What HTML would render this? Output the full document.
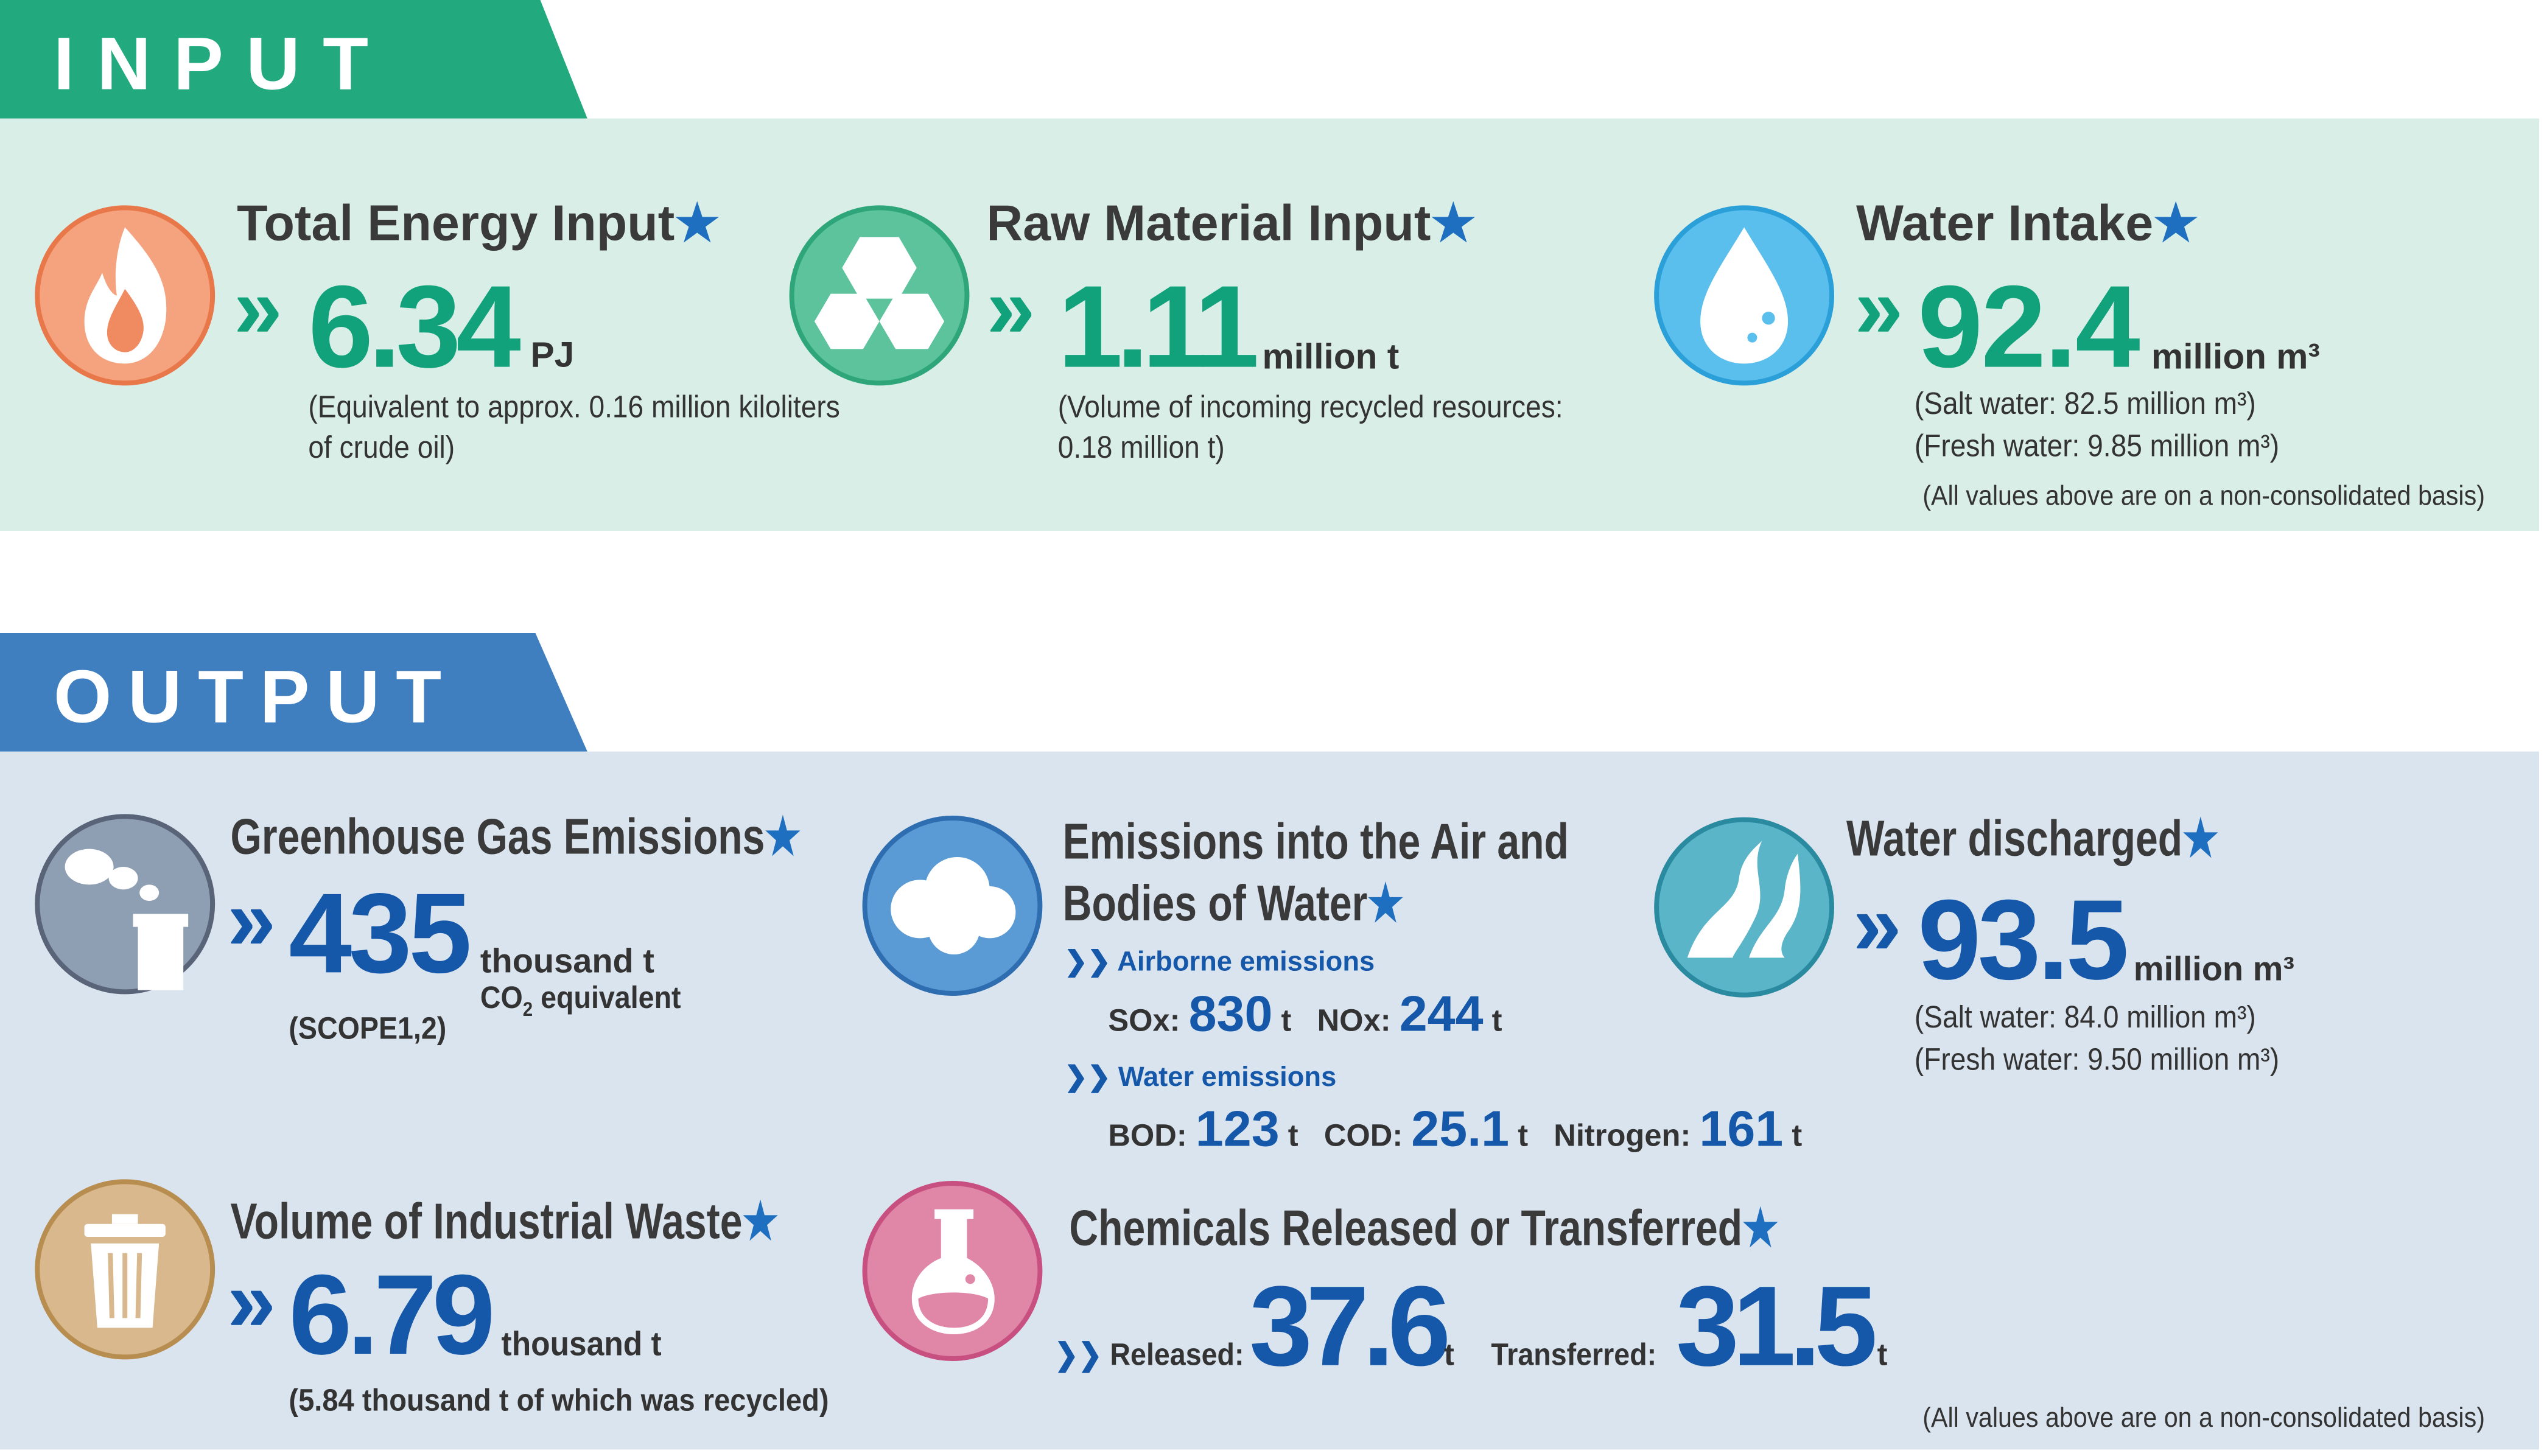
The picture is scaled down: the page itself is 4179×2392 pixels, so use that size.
<!DOCTYPE html>
<html><head><meta charset="utf-8">
<style>
html,body{margin:0;padding:0;background:#fff;overflow:hidden}
#root{position:relative;width:1568px;height:897px;transform:scale(2.6652,2.6667);transform-origin:0 0;font-family:"Liberation Sans",sans-serif;color:#333}
.a{position:absolute;white-space:nowrap;line-height:1;transform-origin:0 0}
.t{font-weight:bold;font-size:31px;color:#3a3a3a}
.n{font-size:31px;color:#3a3a3a;font-weight:bold;transform:scaleX(0.8)}
.g{color:#12a27b;font-weight:bold}
.b{color:#1557a8;font-weight:bold}
.star{color:#1e6fc0}
.s{font-size:19px;color:#333;transform:scaleX(0.91)}
.u{font-weight:bold;font-size:22px;color:#333}
.ch{font-size:54px}
</style></head><body>
<div id="root">
<svg class="a" style="left:0;top:0" width="1568" height="897">
<rect x="0" y="73" width="1565" height="254" fill="#daeee8"/>
<polygon points="0,0 333,0 362,73 0,73" fill="#22a97d"/>
<rect x="0" y="463" width="1565" height="430" fill="#dae4ef"/>
<polygon points="0,390 330,390 362,463 0,463" fill="#3f7fc0"/>
<g><circle cx="77" cy="182" r="54" fill="#f4a37e" stroke="#e8784a" stroke-width="3"/>
<path d="M77,140 C95,160 105,175 102,198 C99,216 88,224 77,224 C62,224 52,214 52,198 C52,184 60,176 63,168 C66,178 70,182 72,182 C70,168 72,152 77,140Z" fill="#fff"/>
<path d="M77,178 C86,190 90,198 88,206 C86,214 81,217 77,217 C71,217 66,212 66,205 C66,196 72,188 77,178Z" fill="#f08a60"/></g>
<g><circle cx="542" cy="182" r="54" fill="#5cc39c" stroke="#2ea67a" stroke-width="3"/>
<g fill="#fff"><polygon points="530,146 554,146 565,165 554,184 530,184 519,165"/><polygon points="512,181 532,181 542,198 532,215 512,215 502,198"/><polygon points="552,181 572,181 582,198 572,215 552,215 542,198"/></g></g>
<g><circle cx="1075" cy="182" r="54" fill="#5bbfee" stroke="#2a9fd8" stroke-width="3"/>
<path d="M1075,140 C1088,162 1102,180 1102,198 C1102,214 1090,224 1075,224 C1060,224 1048,214 1048,198 C1048,180 1062,162 1075,140Z" fill="#fff"/>
<circle cx="1090" cy="196" r="4" fill="#5bbfee"/><circle cx="1080" cy="208" r="3" fill="#5bbfee"/></g>
<g><circle cx="77" cy="557" r="54" fill="#8f9fb3" stroke="#5a6478" stroke-width="3"/>
<g fill="#fff"><rect x="85" y="570" width="28" height="40"/><rect x="82" y="563" width="34" height="8"/><ellipse cx="55" cy="534" rx="15" ry="11"/><ellipse cx="76" cy="541" rx="9" ry="7"/><ellipse cx="92" cy="550" rx="6" ry="5"/></g></g>
<g><circle cx="587" cy="558" r="54" fill="#5b9bd5" stroke="#2e6eb0" stroke-width="3"/>
<g fill="#fff"><circle cx="567" cy="560" r="18"/><circle cx="590" cy="548" r="20"/><circle cx="610" cy="562" r="16"/><circle cx="588" cy="572" r="16"/></g></g>
<g><circle cx="1075" cy="559" r="54" fill="#5ab5c9" stroke="#2a8aa0" stroke-width="3"/>
<path d="M1040,590 C1050,560 1070,560 1072,540 C1074,528 1082,522 1086,518 C1078,535 1090,548 1082,565 C1075,580 1068,588 1068,590Z M1078,590 C1085,570 1098,566 1100,548 C1101,538 1105,530 1108,526 C1110,545 1112,560 1102,574 C1096,583 1098,588 1100,590Z" fill="#fff"/></g>
<g><circle cx="77" cy="782" r="54" fill="#d8b88c" stroke="#b88d50" stroke-width="3"/>
<g fill="#fff"><rect x="52" y="754" width="50" height="8" rx="2"/><rect x="69" y="748" width="16" height="6"/><path d="M56,766 H98 L94,818 H60Z"/></g>
<g stroke="#d8b88c" stroke-width="3"><line x1="68" y1="772" x2="69" y2="812"/><line x1="77" y1="772" x2="77" y2="812"/><line x1="86" y1="772" x2="85" y2="812"/></g></g>
<g><circle cx="587" cy="783" r="54" fill="#e087a8" stroke="#c85080" stroke-width="3"/>
<path d="M580,750 V775 C568,780 562,790 562,800 C562,814 574,822 588,822 C602,822 613,814 613,800 C613,790 606,780 596,775 V750Z" fill="#fff"/>
<rect x="576" y="745" width="24" height="6" fill="#fff"/>
<path d="M566,800 C575,795 600,795 609,800 C609,812 600,818 588,818 C576,818 566,812 566,800Z" fill="#e087a8"/><circle cx="598" cy="788" r="3" fill="#e087a8"/></g>
</svg>

<div class="a" style="left:33px;top:16px;font-size:46px;font-weight:bold;color:#fff;letter-spacing:14px">INPUT</div>
<div class="a" style="left:33px;top:406px;font-size:46px;font-weight:bold;color:#fff;letter-spacing:10px">OUTPUT</div>

<div class="a t" style="left:146px;top:122px">Total Energy Input<span class="star">★</span></div>
<div class="a g ch" style="left:144px;top:163px">»</div>
<div class="a g" style="left:190px;top:166px;font-size:72px;letter-spacing:-3px">6.34</div>
<div class="a u" style="left:327px;top:208px">PJ</div>
<div class="a s" style="left:190px;top:239px;line-height:25px">(Equivalent to approx. 0.16 million kiloliters<br>of crude oil)</div>

<div class="a t" style="left:608px;top:122px">Raw Material Input<span class="star">★</span></div>
<div class="a g ch" style="left:608px;top:163px">»</div>
<div class="a g" style="left:652px;top:166px;font-size:72px;letter-spacing:-4px">1.11</div>
<div class="a u" style="left:778px;top:209px">million t</div>
<div class="a s" style="left:652px;top:239px;line-height:25px">(Volume of incoming recycled resources:<br>0.18 million t)</div>

<div class="a t" style="left:1144px;top:122px">Water Intake<span class="star">★</span></div>
<div class="a g ch" style="left:1143px;top:163px">»</div>
<div class="a g" style="left:1182px;top:166px;font-size:72px;letter-spacing:-1px">92.4</div>
<div class="a u" style="left:1326px;top:209px">million m³</div>
<div class="a s" style="left:1180px;top:237px;line-height:26px">(Salt water: 82.5 million m³)<br>(Fresh water: 9.85 million m³)</div>
<div class="a s" style="left:1185px;top:297px;font-size:17px">(All values above are on a non-consolidated basis)</div>

<div class="a n" style="left:142px;top:500px">Greenhouse Gas Emissions<span class="star">★</span></div>
<div class="a b ch" style="left:140px;top:540px">»</div>
<div class="a b" style="left:178px;top:540px;font-size:70px;letter-spacing:-2px">435</div>
<div class="a u" style="left:296px;top:582px;font-size:21px">thousand t</div>
<div class="a" style="left:296px;top:606px;font-size:19px;font-weight:bold;transform:scaleX(0.92)">CO<sub style="font-size:12px">2</sub> equivalent</div>
<div class="a" style="left:178px;top:625px;font-size:19px;font-weight:bold;transform:scaleX(0.92)">(SCOPE1,2)</div>

<div class="a n" style="left:655px;top:500px;line-height:38px">Emissions into the Air and<br>Bodies of Water<span class="star">★</span></div>
<div class="a b" style="left:656px;top:584px;font-size:17px">❯❯ Airborne emissions</div>
<div class="a" style="left:683px;top:609px;font-size:19px;font-weight:bold">SOx: <span class="b" style="font-size:31px">830</span> t &nbsp;&nbsp;NOx: <span class="b" style="font-size:31px">244</span> t</div>
<div class="a b" style="left:656px;top:655px;font-size:17px">❯❯ Water emissions</div>
<div class="a" style="left:683px;top:680px;font-size:19px;font-weight:bold">BOD: <span class="b" style="font-size:31px">123</span> t &nbsp;&nbsp;COD: <span class="b" style="font-size:31px">25.1</span> t &nbsp;&nbsp;Nitrogen: <span class="b" style="font-size:31px">161</span> t</div>

<div class="a n" style="left:1138px;top:501px">Water discharged<span class="star">★</span></div>
<div class="a b ch" style="left:1142px;top:543px">»</div>
<div class="a b" style="left:1182px;top:544px;font-size:70px;letter-spacing:-2px">93.5</div>
<div class="a u" style="left:1315px;top:587px;font-size:21px">million m³</div>
<div class="a s" style="left:1180px;top:615px;line-height:26px">(Salt water: 84.0 million m³)<br>(Fresh water: 9.50 million m³)</div>

<div class="a n" style="left:142px;top:737px">Volume of Industrial Waste<span class="star">★</span></div>
<div class="a b ch" style="left:140px;top:775px">»</div>
<div class="a b" style="left:178px;top:775px;font-size:70px;letter-spacing:-3px">6.79</div>
<div class="a u" style="left:309px;top:818px;font-size:21px;transform:scaleX(0.92)">thousand t</div>
<div class="a" style="left:178px;top:854px;font-size:19px;font-weight:bold;transform:scaleX(0.93)">(5.84 thousand t of which was recycled)</div>

<div class="a n" style="left:659px;top:741px">Chemicals Released or Transferred<span class="star">★</span></div>
<div class="a" style="left:650px;top:826px;font-size:19px;font-weight:bold;transform:scaleX(0.92)"><span class="b">❯❯</span> Released:</div>
<div class="a b" style="left:770px;top:782px;font-size:70px;letter-spacing:-4px">37.6</div>
<div class="a" style="left:890px;top:826px;font-size:19px;font-weight:bold">t</div>
<div class="a" style="left:919px;top:826px;font-size:19px;font-weight:bold;transform:scaleX(0.92)">Transferred:</div>
<div class="a b" style="left:1033px;top:782px;font-size:70px;letter-spacing:-4px">31.5</div>
<div class="a" style="left:1157px;top:826px;font-size:19px;font-weight:bold">t</div>
<div class="a s" style="left:1185px;top:865px;font-size:17px">(All values above are on a non-consolidated basis)</div>
</div>
</body></html>
